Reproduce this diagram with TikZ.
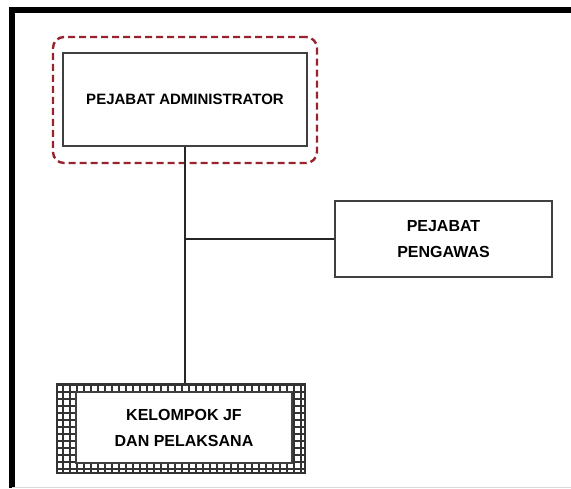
\documentclass[tikz,border=0pt]{standalone}
\usepackage{fontspec}
\setmainfont{Liberation Sans}
\usetikzlibrary{positioning}
\definecolor{framered}{RGB}{150,35,45}

\begin{document}
\begin{tikzpicture}[x=1pt,y=-1pt,
    unitbox/.style={draw=black!75, line width=1.3pt, fill=white, align=center, inner sep=0pt},
    link/.style={draw=black!85, line width=1.8pt},
    gridline/.style={draw=black!80, line width=1.1pt}]
        \useasboundingbox (0,0) rectangle (571,488);

        % Page frame
        \draw[line width=6pt] (12,488) -- (12,10) -- (571,10);
        \draw[black!15, line width=1pt] (12,487.5) -- (571,487.5);

        % Boxes
        \node[draw=framered, line width=2.4pt, dash pattern=on 7pt off 4pt, rounded corners=11pt,
              minimum width=264pt, minimum height=126pt] (adminframe) at (185,100) {};
        \node[unitbox, minimum width=244pt, minimum height=93pt, font=\bfseries\fontsize{15}{18}\selectfont]
              (admin) at (185,99.5) {PEJABAT ADMINISTRATOR};
        \node[unitbox, minimum width=217pt, minimum height=76pt, font=\bfseries\fontsize{16}{26}\selectfont]
              (pengawas) at (443.5,239) {PEJABAT\\PENGAWAS};

        % Hatched box
        \node[draw=black!80, line width=1.2pt, minimum width=248pt, minimum height=89pt] (jfouter) at (181,428.5) {};
        \begin{scope}
            \clip (jfouter.north west) rectangle (jfouter.south east);
            \draw[gridline] (jfouter.north west) grid[step=7pt] (jfouter.south east);
        \end{scope}
        \node[unitbox, minimum width=216pt, minimum height=71pt, font=\bfseries\fontsize{16}{26}\selectfont]
              (jf) at (184,427.5) {KELOMPOK JF\\DAN PELAKSANA};

        % Connectors
        \draw[link] (admin.south) -- (admin.south |- jfouter.north);
        \draw[link] (admin.south |- pengawas.west) -- (pengawas.west);
\end{tikzpicture}
\end{document}
